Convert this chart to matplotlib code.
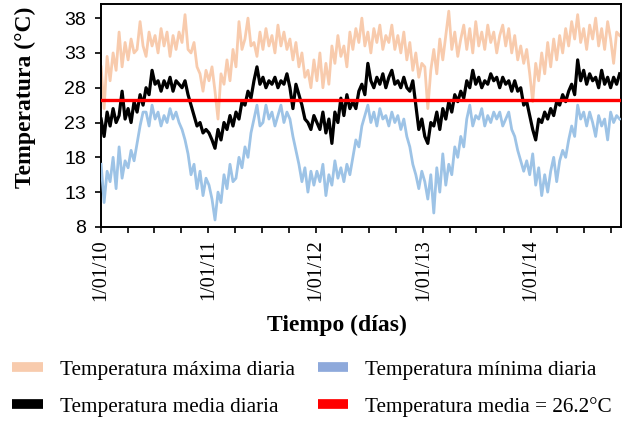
import numpy as np
import pandas as pd
import matplotlib
matplotlib.use('Agg')
import matplotlib.pyplot as plt
import matplotlib.dates as mdates
from matplotlib.ticker import FuncFormatter

# ── Data (~3 values per month, Jan 2010 - Oct 2014) ──
t_max = [
    31.0, 25.0, 32.5, 29.0, 33.0, 30.5, 36.0, 31.0, 34.5, 32.0, 35.0, 33.0,
    33.5, 37.5, 34.0, 32.5, 36.0, 34.0, 35.5, 33.0, 36.5, 34.0, 36.0, 32.5,
    35.5, 33.5, 36.0, 34.5, 38.5, 33.5, 33.0, 34.5, 31.0, 30.0, 27.5, 30.5,
    29.0, 31.0, 27.5, 23.5, 30.0, 28.5, 32.0, 29.0, 33.5, 31.0, 37.5, 33.5,
    35.0, 38.0, 34.0, 34.5, 32.5, 36.0, 33.5, 36.5, 34.0, 35.5, 33.0, 37.0,
    34.0, 36.0, 33.5, 35.0, 32.0, 34.5, 31.0, 33.0, 29.5, 30.5, 28.0, 32.0,
    29.0, 33.0, 28.0, 31.5, 28.5, 34.0, 31.5, 35.5, 32.5, 34.0, 31.0, 36.0,
    33.5, 36.5, 34.5, 38.0, 34.0, 36.0, 33.0, 36.5, 34.5, 37.0, 33.5, 35.5,
    34.5, 37.0, 33.5, 35.5, 33.0, 36.0, 32.0, 34.5, 30.5, 33.0, 29.5, 31.5,
    31.0, 25.0, 30.5, 33.5, 30.0, 35.0, 32.0, 35.5, 39.0, 33.5, 36.0, 32.5,
    35.0, 37.0, 33.5, 36.5, 33.0, 37.5, 34.0, 36.0, 33.5, 37.0, 34.5, 36.0,
    33.0, 35.5, 37.0, 34.0, 36.5, 33.0, 35.5, 32.0, 34.0, 31.5, 33.5, 30.0,
    26.0, 31.5, 29.0, 33.0, 30.0, 34.5, 31.0, 35.0, 32.0, 35.5, 33.0, 36.5,
    34.0, 37.5, 35.0, 38.5, 34.5, 36.5, 33.5, 37.0, 35.0, 38.0, 34.0, 36.5,
    33.5, 37.5, 35.0, 31.5, 36.0, 35.5,
]

t_mean = [
    23.5, 21.0, 24.5, 22.5, 25.0, 23.0, 24.0, 27.5, 23.5, 25.0, 23.0, 26.0,
    24.5, 27.0, 25.5, 28.0, 27.0, 30.5, 28.5, 29.0, 27.5, 29.0, 28.0, 29.5,
    27.5, 29.0, 28.5, 28.0, 29.0, 27.0, 25.5, 24.0, 22.5, 23.0, 21.5, 22.0,
    21.5, 20.5, 19.3, 22.0, 20.5, 23.0, 22.0, 24.0, 22.5, 24.5, 23.5, 26.0,
    25.5, 27.5, 26.5, 29.0, 31.0, 28.5, 29.5, 28.0, 29.0, 28.5, 29.5, 28.0,
    29.0, 28.5, 30.0, 28.0, 25.0, 28.5, 27.0, 25.5, 23.5, 23.0, 22.0, 24.0,
    23.0, 22.0, 24.5, 21.5, 23.5, 20.0, 24.5, 23.0, 26.5, 24.0, 27.0, 25.0,
    26.0, 25.0, 27.5, 28.5, 27.0, 31.5, 29.0, 28.0, 29.5, 28.5, 30.0, 28.0,
    29.5, 30.5, 28.5, 29.0, 28.0, 29.5, 28.0, 27.5, 29.0, 25.5, 22.0, 23.5,
    21.0, 20.0, 23.0, 22.5, 24.5, 22.0, 25.0, 23.5, 26.0, 24.5, 27.0, 26.0,
    27.5, 26.5, 29.0, 28.0, 30.5, 28.5, 29.5, 28.0, 29.0, 28.5, 30.0, 29.0,
    29.5, 28.0, 29.5, 28.5, 29.0, 27.5, 29.0, 27.5, 28.0, 25.5, 26.0, 24.0,
    22.0, 20.5, 23.5, 23.0, 24.5, 23.5, 25.0, 24.0, 26.0, 25.5, 27.0, 26.0,
    27.5, 28.5, 27.0, 32.0, 29.0, 30.5, 28.5, 30.0, 29.0, 29.5, 28.0, 30.5,
    28.5, 29.5, 28.0, 29.5, 28.5, 30.0,
]

t_min = [
    17.0, 11.5, 16.0, 14.5, 18.0, 13.5, 19.5, 15.0, 17.5, 16.5, 19.0, 17.5,
    20.0, 22.5, 24.5, 24.5, 22.5, 25.5, 23.5, 24.5, 22.5, 24.0, 23.0, 25.0,
    23.5, 24.5, 23.0, 22.0, 20.5, 18.5, 15.5, 17.0, 13.5, 16.0, 12.5, 15.0,
    14.0, 12.0, 9.0, 13.0, 11.5, 15.5, 13.5, 17.0, 14.5, 15.0, 18.0, 16.5,
    19.5, 18.0, 21.5, 23.5, 25.5, 22.5, 23.0, 25.5, 23.5, 24.5, 22.5, 24.0,
    25.5, 23.0, 24.5, 23.5, 21.0, 19.0, 17.0, 14.5, 16.5, 13.0, 16.0, 14.0,
    16.0, 14.5, 17.0, 12.5, 15.5, 14.0, 17.5, 15.0, 16.5, 14.5, 17.0, 15.5,
    18.0, 20.5, 19.5, 22.5, 24.0, 25.5, 23.0, 24.5, 22.5, 25.0, 23.5, 24.0,
    22.5, 24.5, 23.0, 24.0, 22.0, 23.5, 21.0, 19.5, 17.0, 15.5, 13.5, 16.0,
    14.5, 12.0, 15.5, 10.0, 16.5, 13.0, 18.5, 14.0, 17.0, 15.5, 19.5, 18.0,
    21.0, 19.5, 23.5, 25.5, 22.5, 24.0, 23.5, 25.0, 22.5, 24.0, 23.0, 24.5,
    23.5, 24.5, 22.5, 23.5, 24.5, 22.0, 21.0, 19.0, 17.5, 16.0, 17.5, 15.5,
    18.5, 14.0, 16.5, 12.5, 15.5, 13.0, 16.0, 18.0, 14.5, 17.5, 19.0, 18.0,
    20.5, 22.5, 21.0, 25.5, 23.5, 24.5, 22.5, 24.5, 23.0, 21.0, 24.0, 22.5,
    23.5, 20.5, 24.5, 23.0, 24.0, 23.5,
]

t_avg = 26.2
dates = pd.date_range('2010-01-01', '2014-10-31', periods=len(t_max))

labels = ['Temperatura máxima diaria', 'Temperatura media diaria',
          'Temperatura mínima diaria', 'Temperatura media = 26.2°C']

# ── Plot ─────────────────────────────────────────────────────────────────────
fig = plt.figure(figsize=(6.28, 4.21), dpi=100)
ax = fig.add_axes([0.161, 0.461, 0.828, 0.529])

l_max, = ax.plot(dates, t_max, color='#F8CBAD', lw=2.0, zorder=2)
l_min, = ax.plot(dates, t_min, color='#9DC3E6', lw=2.0, zorder=3)
l_mean, = ax.plot(dates, t_mean, color='black', lw=2.3, zorder=4)
l_avg = ax.axhline(t_avg, color='#FF0000', lw=2.4, zorder=5)

ax.set_ylim(8, 40)
ax.set_yticks(np.arange(8, 39, 5))
ax.set_xlim(pd.Timestamp('2010-01-01'), pd.Timestamp('2014-11-05'))

ax.xaxis.set_major_locator(mdates.YearLocator())
ax.xaxis.set_minor_locator(mdates.MonthLocator(bymonth=[4, 7, 10]))
ax.xaxis.set_major_formatter(FuncFormatter(
    lambda v, _: (lambda d: f'{d.day}/{d.month:02d}/{d.year % 100:02d}')(mdates.num2date(v))))

ax.tick_params(axis='both', which='both', direction='out', length=4, width=1.2)
ax.tick_params(axis='x', which='major', labelrotation=90,
               labelfontfamily='Liberation Serif', labelsize=14.5, pad=5)
ax.tick_params(axis='y', labelfontfamily='Liberation Sans', labelsize=14, pad=7)
for sp in ax.spines.values():
    sp.set_linewidth(1.4)

ax.set_ylabel('Temperatura (°C)', fontfamily='Liberation Serif',
              fontsize=17, fontweight='bold')
ax.yaxis.set_label_coords(-0.125, 0.583)
ax.set_xlabel('Tiempo (días)', fontfamily='Liberation Serif',
              fontsize=17, fontweight='bold', va='center')
ax.xaxis.set_label_coords(0.454, -0.44)

leg = fig.legend([l_max, l_mean, l_min, l_avg], labels, ncol=2,
                 loc='lower left', bbox_to_anchor=(-0.0115, -0.035),
                 frameon=False, prop={'family': 'Liberation Serif', 'size': 15.3},
                 handlelength=1.45, handletextpad=0.8, columnspacing=1.08,
                 labelspacing=0.8)
for h in leg.legend_handles:
    h.set_linewidth(7)
    h.set_solid_capstyle('butt')
leg.legend_handles[2].set_color('#8EA9DB')

fig.savefig('out.png', dpi=100)
